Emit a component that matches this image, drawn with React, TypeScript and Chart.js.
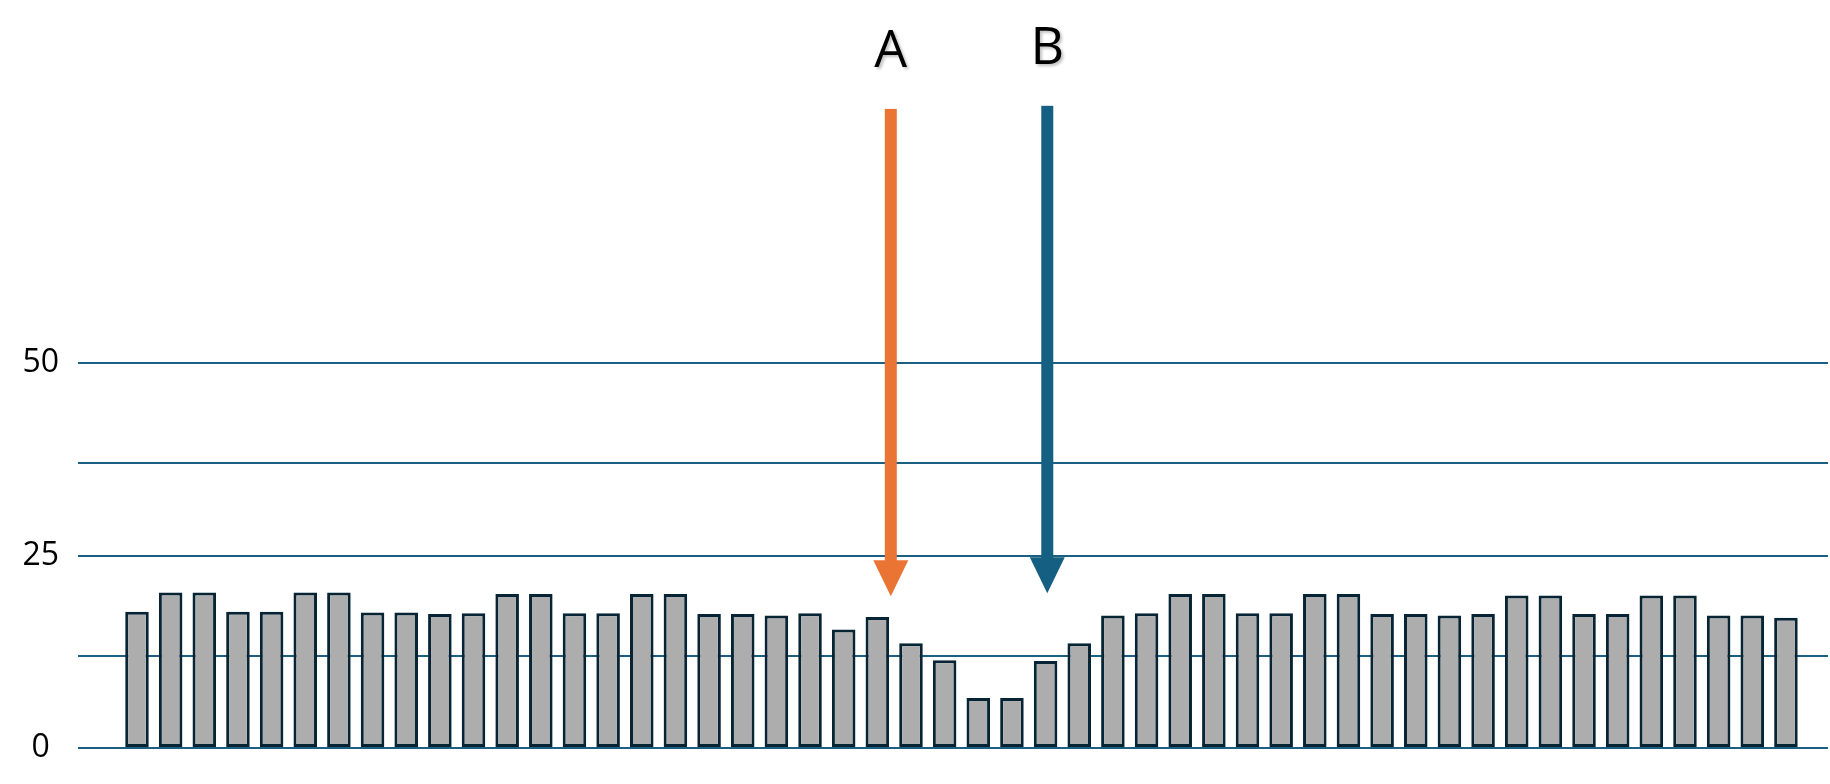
import React, { useEffect, useRef } from "react";
import { Chart, registerables } from "chart.js";

Chart.register(...registerables);

// ---- data ----
const categories = [
  "1", "2", "3", "4", "5", "6", "7", "8", "9", "10",
  "11", "12", "13", "14", "15", "16", "17", "18", "19", "20",
  "21", "22", "23", "24", "25", "26", "27", "28", "29", "30",
  "31", "32", "33", "34", "35", "36", "37", "38", "39", "40",
  "41", "42", "43", "44", "45", "46", "47", "48", "49", "50",
];

const values = [
  17.7, 20.2, 20.2, 17.7, 17.7, 20.2, 20.2, 17.6, 17.6, 17.4,
  17.5, 20.0, 20.0, 17.5, 17.5, 20.0, 20.0, 17.4, 17.4, 17.2,
  17.5, 15.4, 17.0, 13.6, 11.4, 6.5, 6.5, 11.3, 13.6, 17.2,
  17.5, 20.0, 20.0, 17.5, 17.5, 20.0, 20.0, 17.4, 17.4, 17.2,
  17.4, 19.8, 19.8, 17.4, 17.4, 19.8, 19.8, 17.2, 17.2, 16.9,
];

const gridValues = [0, 12, 25, 37, 50];
const tickLabels = ["0", "25", "50"];
const labelledValues = [0, 25, 50];

const arrowLabels = ["A", "B"];
const arrowX = [22.4, 27.05]; // position along the category index
const arrowFrom = [83.0, 83.4];
const arrowTo = [19.7, 20.1];
const arrowColors = ["#EA7434", "#155F82"];

const arrowPlugin = {
  id: "arrows",
  afterDatasetsDraw(chart: any) {
    const { ctx, scales } = chart;
    const xs = scales.x;
    const ys = scales.y;
    arrowLabels.forEach((label, i) => {
      const px = xs.getPixelForValue(arrowX[i]);
      const top = ys.getPixelForValue(arrowFrom[i]);
      const tip = ys.getPixelForValue(arrowTo[i]);
      const headLen = 36;
      const headW = 35;
      const shaftW = 12;
      const base = tip - headLen;
      ctx.save();
      ctx.fillStyle = arrowColors[i];
      ctx.fillRect(px - shaftW / 2, top, shaftW, base - top + 1);
      ctx.beginPath();
      ctx.moveTo(px - headW / 2, base);
      ctx.lineTo(px + headW / 2, base);
      ctx.lineTo(px, tip);
      ctx.closePath();
      ctx.fill();
      ctx.font = '52px "Open Sans"';
      ctx.fillStyle = "#000000";
      ctx.textAlign = "center";
      ctx.textBaseline = "alphabetic";
      ctx.shadowColor = "rgba(0,0,0,0.25)";
      ctx.shadowOffsetX = 2;
      ctx.shadowOffsetY = 2;
      ctx.shadowBlur = 3;
      ctx.fillText(label, px, top - 42);
      ctx.restore();
    });
  },
};

export default function App() {
  const canvasRef = useRef<HTMLCanvasElement | null>(null);

  useEffect(() => {
    if (!canvasRef.current) return;
    const chart = new Chart(canvasRef.current, {
      type: "bar",
      data: {
        labels: categories,
        datasets: [
          {
            label: "values",
            data: values.map((v, i) => ({ x: i, y: v })),
            backgroundColor: "#ADADAD",
            borderColor: "#072435",
            borderWidth: 3,
            borderSkipped: false,
            barPercentage: 0.7,
            categoryPercentage: 1,
          },
        ],
      },
      options: {
        responsive: false,
        animation: false,
        layout: { padding: { top: 16.5, bottom: 36, left: 0, right: 2 } },
        plugins: {
          legend: { display: false },
          tooltip: { enabled: false },
        },
        scales: {
          x: {
            type: "linear",
            min: -1.753,
            max: 50.25,
            offset: false,
            bounds: "data",
            grace: 0,
            display: false,
            grid: { display: false, offset: false },
          },
          y: {
            type: "linear",
            min: 0,
            max: 95,
            border: { display: false },
            grid: {
              color: "#1B5F82",
              lineWidth: 2,
              drawTicks: false,
            },
            afterBuildTicks: (scale: any) => {
              scale.ticks = gridValues.map((v) => ({ value: v }));
            },
            afterFit: (scale: any) => {
              scale.width = 78;
              scale.paddingTop = 0;
              scale.paddingBottom = 0;
            },
            ticks: {
              crossAlign: "center",
              padding: 19,
              color: "#000000",
              font: { family: '"Open Sans"', size: 32 },
              callback: (value: any) => {
                const idx = labelledValues.indexOf(Number(value));
                return idx >= 0 ? tickLabels[idx] : "";
              },
            },
          },
        },
      },
      plugins: [arrowPlugin],
    });
    return () => chart.destroy();
  }, []);

  return (
    <div style={{ position: "fixed", left: 0, top: 0, width: 1830, height: 784, background: "#ffffff" }}>
      <canvas ref={canvasRef} width={1830} height={784} />
    </div>
  );
}
